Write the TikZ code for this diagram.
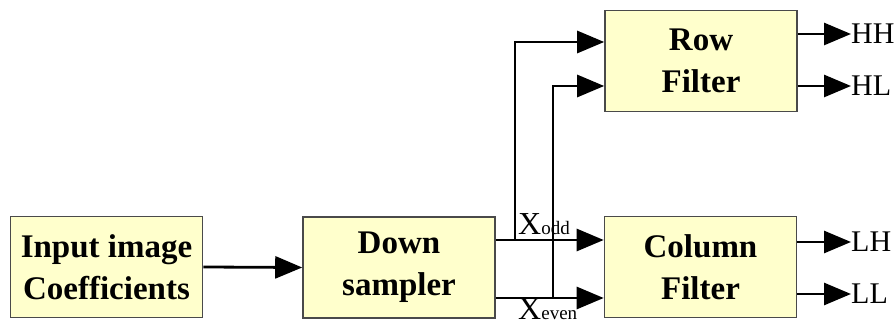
\documentclass[tikz,border=0pt]{standalone}
\usepackage{fontspec}
\setmainfont{Liberation Serif}
\usetikzlibrary{arrows.meta,calc}
\definecolor{boxfill}{HTML}{FFFFCC}
\definecolor{boxline}{HTML}{4A4A4A}
\tikzset{
  blockbox/.style={draw=boxline, line width=1.6pt, fill=boxfill, minimum width=192pt, minimum height=101pt,
    align=center, inner sep=0pt, font=\fontsize{33}{42}\selectfont\bfseries},
  conn/.style={line width=2.8pt, -{Triangle[length=27pt,width=22pt]}},
  outlab/.style={anchor=west, inner sep=0pt, font=\fontsize{30}{30}\selectfont},
  xlab/.style={anchor=base west, inner sep=0pt, font=\fontsize{32}{32}\selectfont}
}
\begin{document}
\begin{tikzpicture}[x=1pt,y=1pt]
\useasboundingbox (0,0) rectangle (896,328);
\node[blockbox] (in) at (106.5,61) {Input image\\Coefficients};
\node[blockbox] (ds) at (399,60.5) {Down\\sampler};
\node[blockbox] (col) at (700.5,61) {Column\\Filter};
\node[blockbox] (row) at (701,267) {Row\\Filter};
% labels
\node[outlab] (hh) at (851,294) {HH};
\node[outlab] (hl) at (851,242) {HL};
\node[outlab] (lh) at (851,86) {LH};
\node[outlab] (ll) at (851,34) {LL};
\node[xlab] (xo) at (518,93) {X{\fontsize{19}{19}\selectfont odd}};
\node[xlab] (xe) at (518,8) {X{\fontsize{19}{19}\selectfont even}};
% coordinates
\coordinate (odds) at (ds.east |- 0,88);
\coordinate (evens) at (ds.east |- 0,30);
\coordinate (oddj) at (515,88);
\coordinate (evenj) at (553,30);
\coordinate (r1) at (515,286);
\coordinate (r2) at (553,242);
% main
\draw[conn] (in.east) -- (ds.west);
\draw[conn] (odds) -- (col.west |- odds);
\draw[conn] (evens) -- (col.west |- evens);
\draw[conn] (oddj) -- (r1) -- (row.west |- r1);
\draw[conn] (evenj) -- (r2) -- (row.west |- r2);
% outputs
\draw[conn] (row.east |- hh.west) -- (hh.west);
\draw[conn] (row.east |- hl.west) -- (hl.west);
\draw[conn] (col.east |- lh.west) -- (lh.west);
\draw[conn] (col.east |- ll.west) -- (ll.west);
\end{tikzpicture}
\end{document}
